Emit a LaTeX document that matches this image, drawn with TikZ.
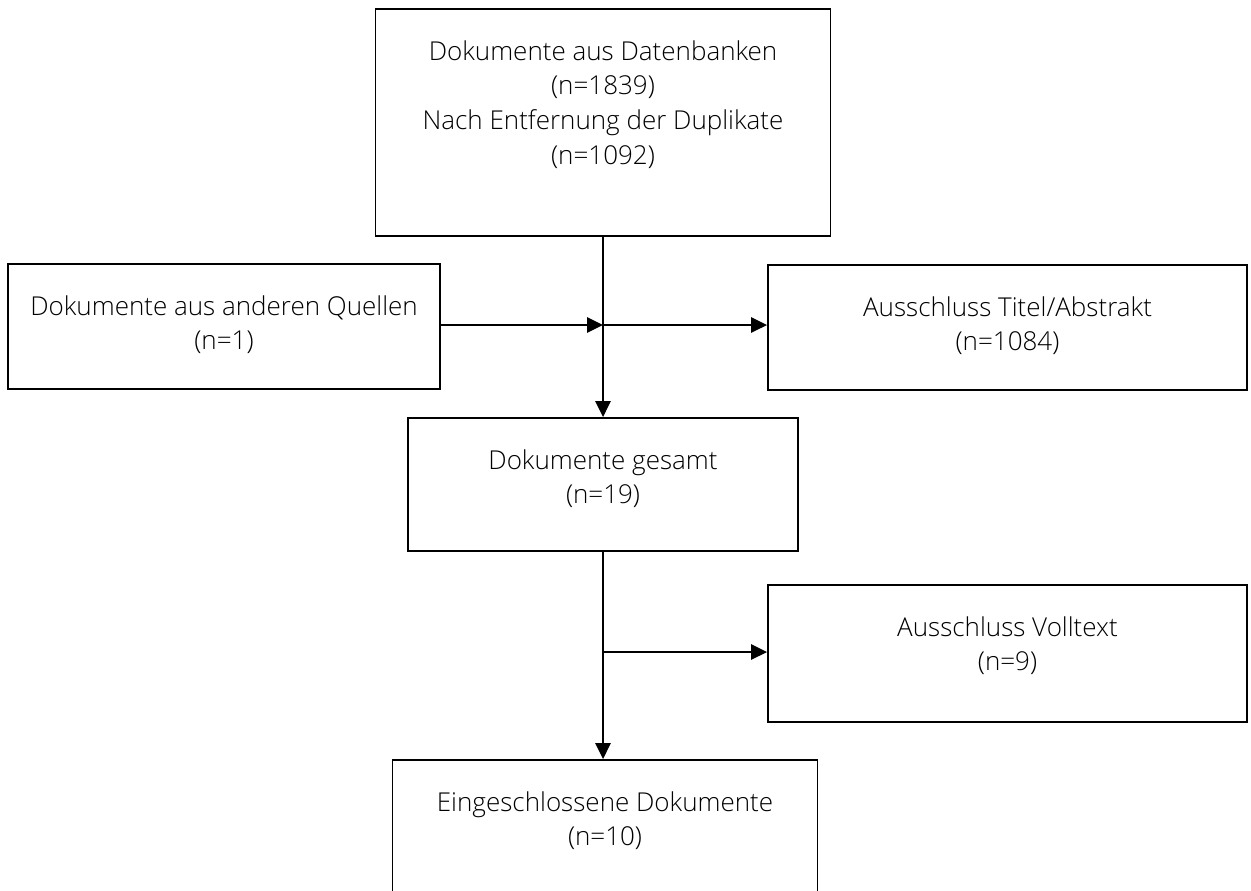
\documentclass[tikz,border=0pt]{standalone}
\usepackage{fontspec}
\IfFontExistsTF{Open Sans Light}{\setmainfont{Open Sans Light}}{\setmainfont{Open Sans}}
\usetikzlibrary{positioning,arrows.meta}

\tikzset{
  box/.style 2 args={draw, line width=1.4pt, inner sep=0pt,
    minimum width=#1*0.75pt, minimum height=#2*0.75pt},
  txt/.style={align=center, inner sep=0pt, font=\fontsize{19.5}{26}\selectfont},
  link/.style={line width=1.4pt, -{Triangle[length=12pt,width=11.5pt]}}
}

\begin{document}
\begin{tikzpicture}[x=0.75pt, y=-0.75pt]
  \clip (0,0) rectangle (1251,890);

  % boxes
  \node[box={455}{227}] (db)   at (603,122.5) {};
  \node[box={432}{125}] (src)  at (224,326.5) {};
  \node[box={479}{125}] (exTA) at (1007.5,327.5) {};
  \node[box={390}{133}] (tot)  at (603,484.5) {};
  \node[box={479}{137}] (exVT) at (1007.5,653.5) {};
  \node[box={425}{136}] (incl) at (605,828) {};

  % texts
  \node[txt, below=24pt of db.north]   (dbT)   {Dokumente aus Datenbanken\\(n=1839)\\Nach Entfernung der Duplikate\\(n=1092)};
  \node[txt, below=24pt of src.north]  (srcT)  {Dokumente aus anderen Quellen\\(n=1)};
  \node[txt, below=24pt of exTA.north] (exTAT) {Ausschluss Titel/Abstrakt\\(n=1084)};
  \node[txt, below=24pt of tot.north]  (totT)  {Dokumente gesamt\\(n=19)};
  \node[txt, below=24pt of exVT.north] (exVTT) {Ausschluss Volltext\\(n=9)};
  \node[txt, below=24pt of incl.north] (inclT) {Eingeschlossene Dokumente\\(n=10)};

  % connectors
  \coordinate (j1) at (db.south |- 0,325);
  \coordinate (j2) at (db.south |- 0,652);
  \draw[link] (db.south) -- (tot.north);
  \draw[link] (src.east |- j1) -- (j1);
  \draw[link] (j1) -- (exTA.west |- j1);
  \draw[link] (tot.south) -- (tot.south |- incl.north);
  \draw[link] (j2) -- (exVT.west |- j2);
\end{tikzpicture}
\end{document}
